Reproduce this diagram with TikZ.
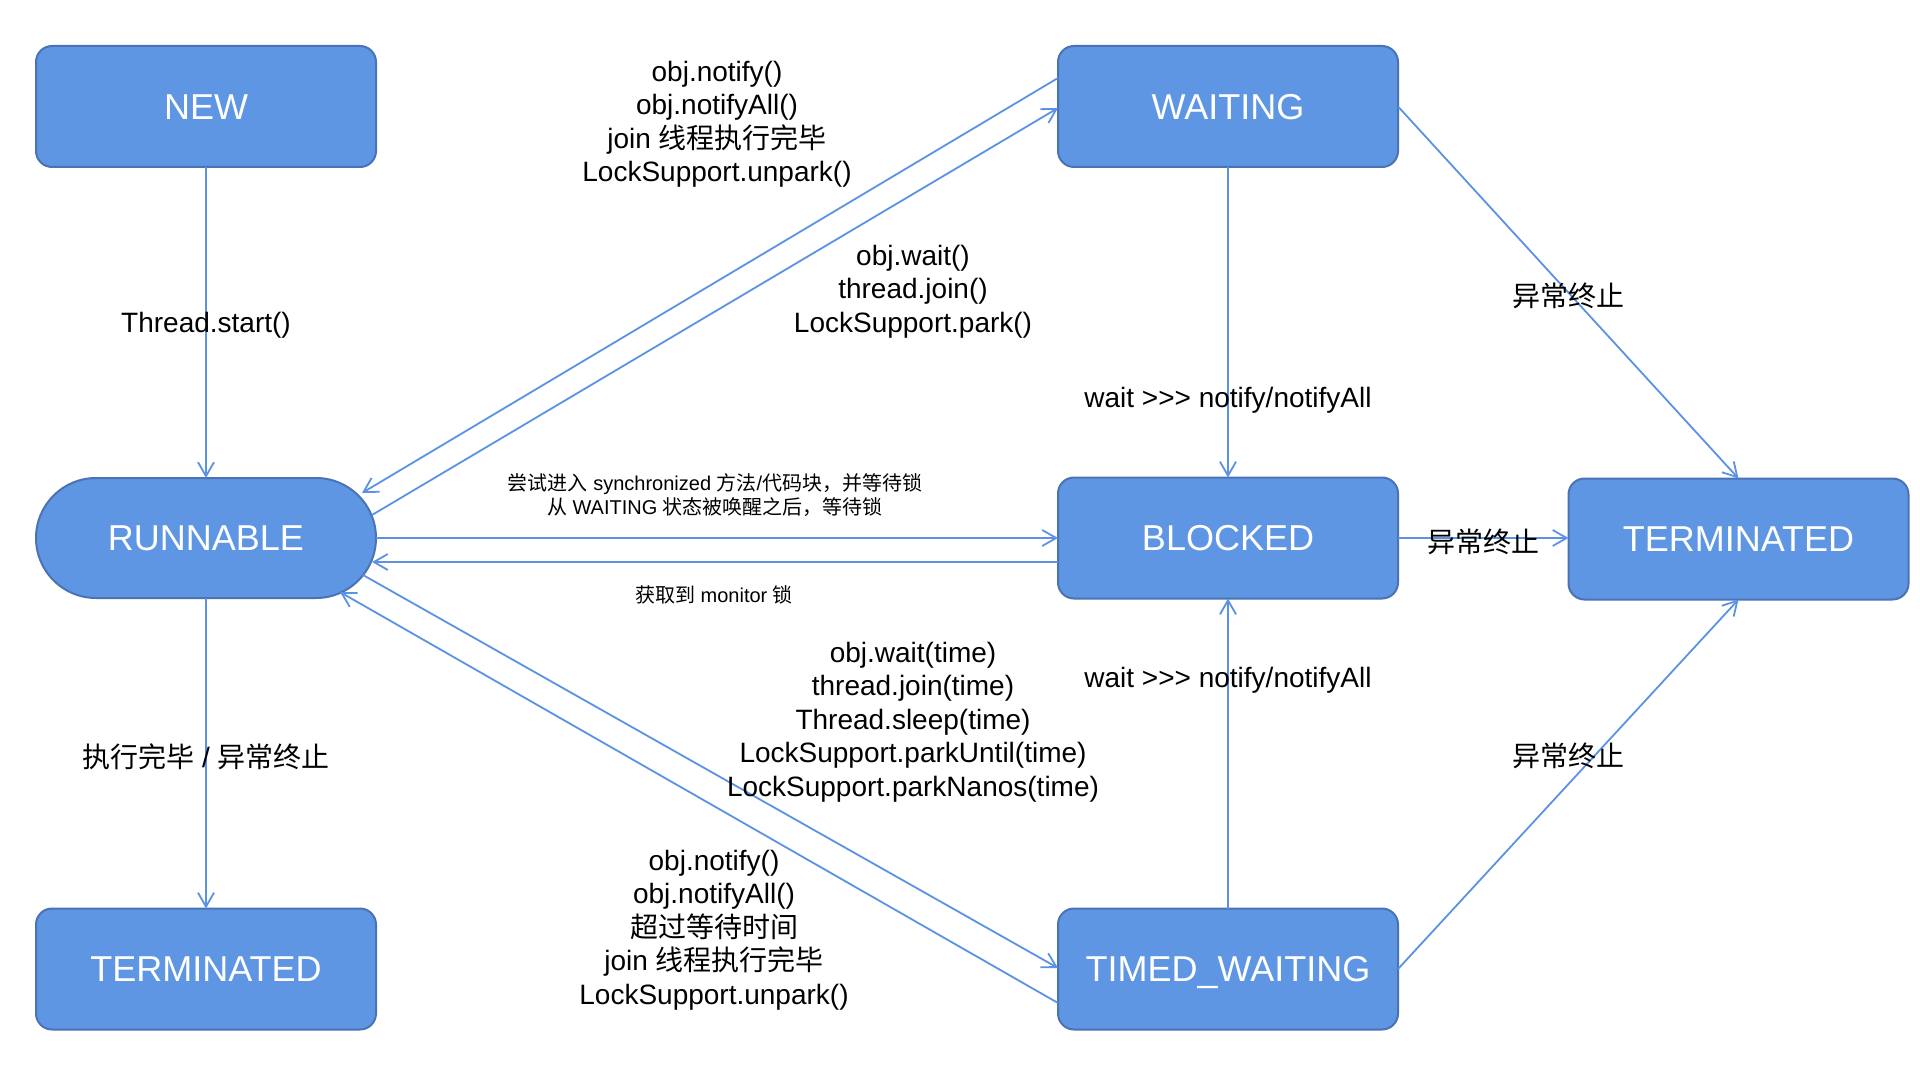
\documentclass[tikz,border=0pt]{standalone}
\usepackage{fontspec}
\setmainfont{Liberation Sans}[Ligatures=TeXOff]
\newfontfamily\cjk{Noto Sans CJK SC}
\usetikzlibrary{arrows.meta,calc}
\definecolor{boxfill}{HTML}{5F96E4}
\definecolor{boxline}{HTML}{4A73B5}
\definecolor{lineblue}{HTML}{5B92E5}
\begin{document}
\begin{tikzpicture}[x=0.5pt,y=-0.5pt,
 state/.style={draw=boxline, line width=1pt, fill=boxfill, rounded corners=8pt, minimum width=170pt, minimum height=60.5pt, inner sep=0pt, outer sep=0pt, text=white, text height=12.9pt, text depth=0pt, font=\fontsize{18pt}{21pt}\selectfont},
 stadium/.style={state, rounded corners=30pt, minimum height=60pt},
 arr/.style={draw=lineblue, line width=0.9pt, -{Straight Barb[length=7pt,width=8pt]}},
 lbl/.style={align=center, inner sep=0pt, font=\fontsize{14pt}{16.75pt}\selectfont},
 smalllbl/.style={align=center, inner sep=0pt, font=\fontsize{10pt}{12pt}\selectfont}]
\useasboundingbox (0,0) rectangle (1920,1080);
\fill[white] (0,0) rectangle (1920,1080);

% states
\node[state] (new) at (206,106.5) {NEW};
\node[state] (wait) at (1228,106.5) {WAITING};
\node[stadium] (run) at (206,538) {RUNNABLE};
\node[state] (blk) at (1228,538) {BLOCKED};
\node[state] (termR) at (1738.5,539) {TERMINATED};
\node[state] (termL) at (206,969) {TERMINATED};
\node[state] (tw) at (1228,969) {TIMED\_WAITING};

% vertical connectors
\draw[arr] (new) -- (run);
\draw[arr] (run) -- (termL);
\draw[arr] (wait) -- (blk);
\draw[arr] (tw) -- (blk);

% to right TERMINATED
\draw[arr] (blk.east) -- (termR.west |- blk.east);
\draw[arr] (wait.east) -- (termR.north);
\draw[arr] (tw.east) -- (termR.south);

% RUNNABLE <-> WAITING
\draw[arr] ($(wait.west)+(0,-28.5)$) -- ($(run.east)+(-14,-45)$);
\draw[arr] ($(run.east)+(-4,-23)$) -- ($(wait.west)+(0,1.5)$);

% RUNNABLE <-> BLOCKED
\draw[arr] (run.east) -- (blk.west);
\draw[arr] ($(blk.west)+(0,24)$) -- ($(run.east)+(-4,24)$);

% RUNNABLE <-> TIMED_WAITING
\draw[arr] ($(run.east)+(-13,37)$) -- ($(tw.west)+(0,-1)$);
\draw[arr] ($(tw.west)+(0,34)$) -- ($(run.east)+(-36,54)$);

% labels
\node[lbl] (l1) at (206,325.5) {Thread.start()};
\node[lbl] (l2) at (206,757) {{\cjk 执行完毕} / {\cjk 异常终止}};
\node[lbl] (l3) at (1228,400.5) {wait >>> notify/notifyAll};
\node[lbl] (l4) at (1228,680.5) {wait >>> notify/notifyAll};
\node[lbl] (l5) at (1568,296) {\cjk 异常终止};
\node[lbl] (l6) at (1483,542) {\cjk 异常终止};
\node[lbl] (l7) at (1568,756) {\cjk 异常终止};

\node[lbl] (g1) at (717,124.5) {obj.notify()\\obj.notifyAll()\\join {\cjk 线程执行完毕}\\LockSupport.unpark()};
\node[lbl] (g2) at (913,291.5) {obj.wait()\\thread.join()\\LockSupport.park()};
\node[smalllbl] (g3) at (715,495) {{\cjk 尝试进入} synchronized {\cjk 方法}/{\cjk 代码块，并等待锁}\\{\cjk 从} WAITING {\cjk 状态被唤醒之后，等待锁}};
\node[smalllbl] (g4) at (714,595) {{\cjk 获取到} monitor {\cjk 锁}};
\node[lbl] (g5) at (913,722) {obj.wait(time)\\thread.join(time)\\Thread.sleep(time)\\LockSupport.parkUntil(time)\\LockSupport.parkNanos(time)};
\node[lbl] (g6) at (714,930) {obj.notify()\\obj.notifyAll()\\{\cjk 超过等待时间}\\join {\cjk 线程执行完毕}\\LockSupport.unpark()};
\end{tikzpicture}
\end{document}
